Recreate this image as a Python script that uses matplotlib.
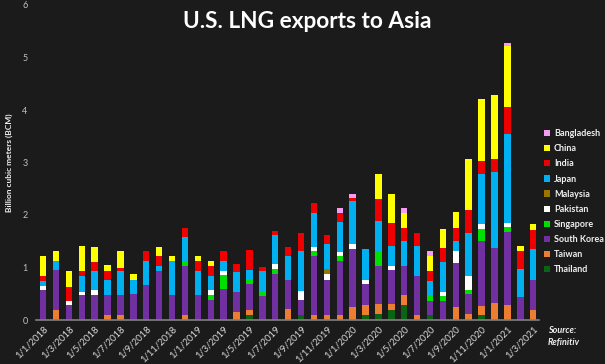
import numpy as np
import matplotlib
matplotlib.use("Agg")
import matplotlib.pyplot as plt
from matplotlib.patches import Patch

# months Jan 2018 .. Mar 2021
months = [f"1/{m}/{y}" for y in (2018, 2019, 2020, 2021) for m in range(1, 13)][:39]

thailand = [0, 0, 0, 0, 0, 0, 0, 0, 0, 0, 0, 0, 0,
            0, 0, 0, 0.10, 0, 0, 0, 0.09, 0, 0, 0, 0, 0.09, 0.11, 0.19, 0.29, 0,
            0.09, 0, 0, 0, 0.10, 0, 0, 0, 0]
taiwan = [0, 0.19, 0, 0, 0, 0.09, 0.09, 0, 0, 0, 0, 0.10, 0,
          0, 0, 0.16, 0.09, 0, 0, 0.21, 0, 0.09, 0.10, 0.10, 0.25, 0.20, 0.19, 0.11, 0.18, 0.09,
          0, 0, 0.24, 0.11, 0.16, 0.33, 0.28, 0, 0.20]
south_korea = [0.57, 0.76, 0.29, 0.47, 0.47, 0.38, 0.38, 0.50, 0.67, 0.94, 0.47, 0.92, 0.47,
               0.39, 0.59, 0.37, 0.49, 0.45, 0.87, 0.56, 0.29, 1.12, 0.67, 1.02, 1.11, 0.39, 0.73,
               0.66, 0.55, 0.74, 0.27, 0.36, 0.84, 0.39, 1.25, 1.05, 1.39, 0.43, 0.57]
singapore = [0, 0, 0, 0, 0, 0, 0, 0, 0, 0, 0, 0.11, 0,
             0.09, 0.27, 0, 0.09, 0.09, 0.10, 0, 0, 0.10, 0, 0.09, 0, 0, 0.29, 0, 0, 0,
             0.11, 0.09, 0, 0.08, 0.23, 0, 0.10, 0, 0]
pakistan = [0.08, 0, 0.08, 0.07, 0.10, 0, 0, 0, 0, 0, 0, 0, 0,
            0.09, 0.08, 0, 0, 0, 0.09, 0, 0.17, 0.09, 0.11, 0.09, 0.09, 0.09, 0, 0.07, 0, 0,
            0, 0.08, 0.24, 0.25, 0.08, 0, 0.08, 0, 0]
malaysia = [0] * 22 + [0.10] + [0] * 16
japan = [0.10, 0.18, 0, 0.30, 0.36, 0.30, 0.47, 0.27, 0.45, 0.09, 0.66, 0.46, 0.47,
         0.27, 0.19, 0.38, 0.19, 0.39, 0.55, 0.44, 0.76, 0.63, 0.47, 0.56, 0.81, 0.59, 0.57,
         0.38, 0.49, 0.58, 0.28, 0.58, 0.19, 0.83, 0.96, 1.43, 1.70, 0.54, 0.59]
india = [0.09, 0, 0.26, 0.09, 0.18, 0.16, 0.06, 0, 0.19, 0.18, 0, 0.17, 0.18,
         0.18, 0.19, 0.16, 0.37, 0.08, 0.09, 0.19, 0.35, 0.20, 0.17, 0.18, 0.07, 0, 0.42,
         0.44, 0.25, 0.25, 0.18, 0.26, 0.24, 0.44, 0.25, 0.25, 0.51, 0.35, 0.36]
china = [0.38, 0.19, 0.31, 0.48, 0.29, 0.11, 0.31, 0.11, 0, 0.19, 0.09, 0, 0.09,
         0.10, 0, 0, 0, 0, 0, 0, 0, 0, 0, 0, 0, 0, 0.47,
         0.55, 0.28, 0, 0.29, 0.37, 0.30, 0.97, 1.18, 1.22, 1.16, 0.09, 0.10]
bangladesh = [0] * 23 + [0.10, 0.07, 0, 0, 0, 0.10, 0, 0.09, 0, 0, 0, 0, 0, 0.06, 0, 0]

series = [
    ("Thailand", thailand, "#0a6414"),
    ("Taiwan", taiwan, "#ed7d31"),
    ("South Korea", south_korea, "#7030a0"),
    ("Singapore", singapore, "#00e000"),
    ("Pakistan", pakistan, "#ffffff"),
    ("Malaysia", malaysia, "#9c7400"),
    ("Japan", japan, "#00b0f0"),
    ("India", india, "#ee0000"),
    ("China", china, "#ffff00"),
    ("Bangladesh", bangladesh, "#f49cf4"),
]

BG = "#1b1b1b"
plt.rcParams['font.family'] = ['Lato', 'DejaVu Sans']

fig = plt.figure(figsize=(6.05, 3.64), dpi=100, facecolor=BG)
ax = fig.add_axes([36 / 605, 44 / 364, 503 / 605, 315 / 364], facecolor=BG)

x = np.arange(len(months))
bottom = np.zeros(len(months))
for name, vals, col in series:
    v = np.array(vals)
    ax.bar(x, v, width=0.5, bottom=bottom, color=col, linewidth=0)
    bottom += v

ax.set_xlim(-0.55, 38.45)
ax.set_ylim(0, 6)
for s in ("top", "right", "left"):
    ax.spines[s].set_visible(False)
ax.spines["bottom"].set_color("#808080")
ax.spines["bottom"].set_linewidth(1.2)

ax.set_xticks(x[::2])
ax.set_xticklabels(months[::2], rotation=45, ha="right", rotation_mode="anchor",
                   fontsize=6.8, color="#d8d8d8")
ax.set_yticks(range(7))
ax.tick_params(axis="y", length=0, labelsize=6.5, labelcolor="#c0c0c0", pad=6)
ax.tick_params(axis="x", length=0, pad=3)
ax.set_ylabel("Billion cubic meters (BCM)", fontsize=6, fontweight="bold",
              color="#f0f0f0", labelpad=7)

fig.text(0.508, 0.942, "U.S. LNG exports to Asia", ha="center", va="center",
         fontsize=16.3, fontweight="bold", color="white")

handles = [Patch(facecolor=col, edgecolor="none", label=name)
           for name, _, col in reversed(series)]
leg = fig.legend(handles=handles, loc="upper left", bbox_to_anchor=(0.893, 0.655),
                 frameon=False, fontsize=6.5, handlelength=0.7, handleheight=0.7,
                 handletextpad=0.4, labelspacing=0.68, borderaxespad=0)
for t in leg.get_texts():
    t.set_color("#f0f0f0")
    t.set_fontweight("bold")

fig.text(0.905, 0.075, "Source:\nRefinitiv", ha="left", va="center", fontsize=6.5,
         fontweight="bold", fontstyle="italic", color="#f0f0f0", linespacing=1.5)

fig.savefig("out.png", dpi=100, facecolor=BG)
